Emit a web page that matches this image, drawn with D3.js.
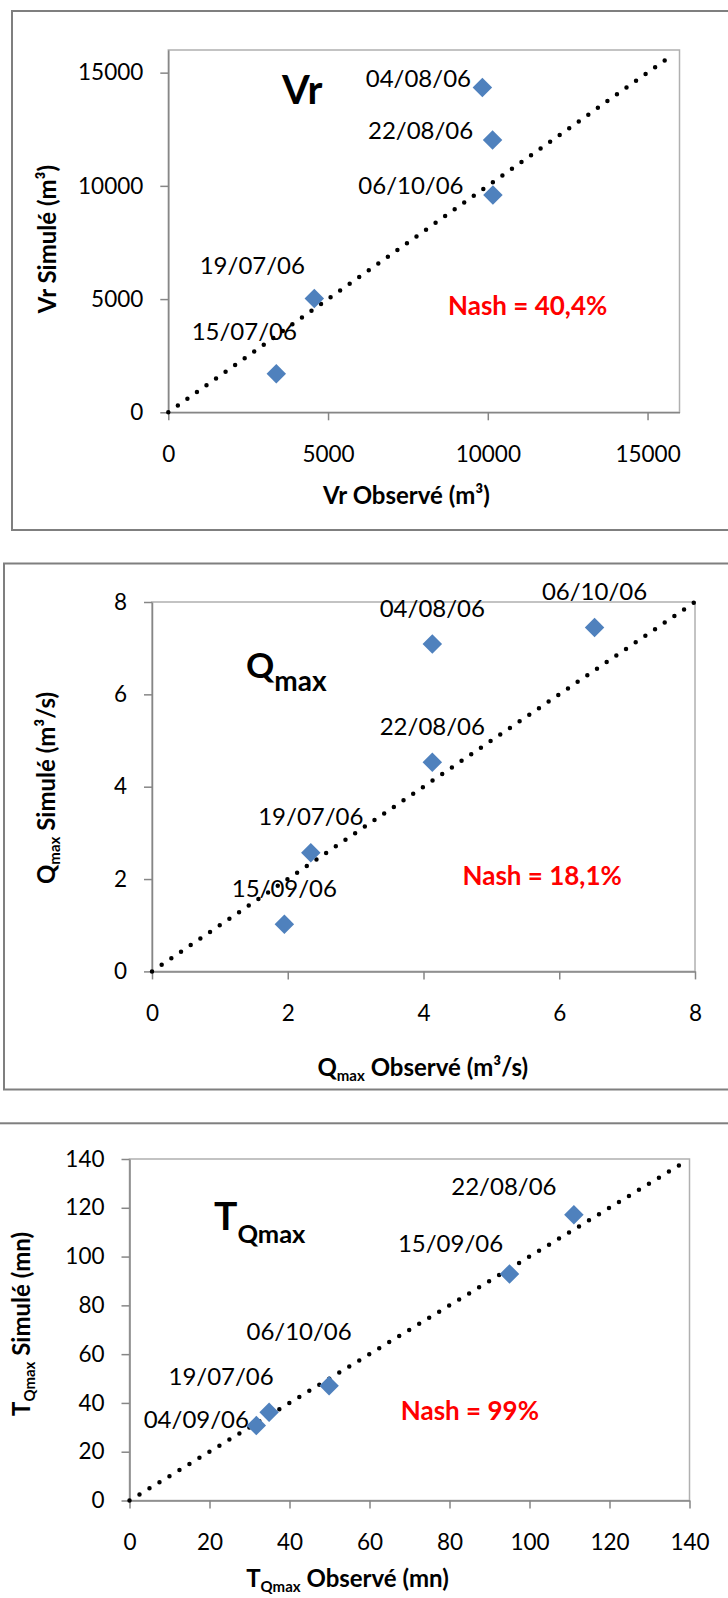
<!DOCTYPE html>
<html>
<head>
<meta charset="utf-8">
<script src="https://cdn.jsdelivr.net/npm/d3@7/dist/d3.min.js"></script>
<style>
  body { margin: 0; background: #fff; }
  svg { display: block; }
  text { font-family: Lato, "Open Sans", sans-serif; fill: #000; }
</style>
</head>
<body>
<svg id="chart" width="728" height="1598"></svg>
<script>
// ---- Vr (volume ruisselé)
var vrDates = ["04/08/06", "22/08/06", "06/10/06", "19/07/06", "15/07/06"];
var vrObs = [9830, 10150, 10160, 4570, 3380];
var vrSim = [14340, 12030, 9600, 5030, 1700];
var vrTicks = [0, 5000, 10000, 15000];
var vrMax = 16000;
var vrLine = [0, 15800];
var vrNash = "Nash = 40,4%";

// ---- Qmax (débit de pointe)
var qDates = ["04/08/06", "06/10/06", "22/08/06", "19/07/06", "15/09/06"];
var qObs = [4.13, 6.52, 4.13, 2.34, 1.95];
var qSim = [7.09, 7.45, 4.53, 2.57, 1.02];
var qTicks = [0, 2, 4, 6, 8];
var qMax = 8;
var qLine = [0, 8];
var qNash = "Nash = 18,1%";

// ---- TQmax (temps de pointe)
var tDates = ["22/08/06", "15/09/06", "06/10/06", "19/07/06", "04/09/06"];
var tObs = [111.1, 95.0, 49.9, 34.9, 31.7];
var tSim = [117.1, 92.9, 47.0, 36.2, 30.7];
var tTicks = [0, 20, 40, 60, 80, 100, 120, 140];
var tMax = 140;
var tLine = [0, 139];
var tNash = "Nash = 99%";

// label offsets (px) from each diamond, the labels were moved by hand in the original
var vrShift = [[-64, -9], [-72, -10], [-82, -10], [-62, -33], [-32, -42]];
var qShift = [[0, -36], [0, -36], [0, -36], [0, -36], [0, -36]];
var tShift = [[-70, -28], [-59, -31], [-30, -54], [-48, -36], [-60, -6]];

var svg = d3.select("#chart");
var diamond = d3.symbol().type(d3.symbolSquare).size(190);

function drawPanel(p) {
  var g = svg.append("g").attr("class", p.name);

  // outer frame
  g.append("rect")
    .attr("x", p.frame[0]).attr("y", p.frame[1])
    .attr("width", p.frame[2]).attr("height", p.frame[3])
    .style("fill", "none").style("stroke", "#7f7f7f").style("stroke-width", "2px");

  var x = d3.scaleLinear().domain([0, p.max]).range([p.left, p.right]);
  var y = d3.scaleLinear().domain([0, p.max]).range([p.bottom, p.top]);

  // plot area border
  g.append("rect")
    .attr("x", p.left).attr("y", p.top)
    .attr("width", p.right - p.left).attr("height", p.bottom - p.top)
    .style("fill", "none").style("stroke", "#b0b0b0").style("stroke-width", "1.5px");

  var fmt = d3.format("d");
  var yAxis = d3.axisLeft(y).tickValues(p.ticks).tickSize(8).tickSizeOuter(0)
    .tickPadding(17).tickFormat(fmt);
  var xAxis = d3.axisBottom(x).tickValues(p.ticks).tickSize(8).tickSizeOuter(0)
    .tickPadding(26).tickFormat(fmt);

  [g.append("g").attr("transform", "translate(" + p.left + ",0)").call(yAxis),
   g.append("g").attr("transform", "translate(0," + p.bottom + ")").call(xAxis)]
    .forEach(function(ax) {
      ax.selectAll("path, line").style("stroke", "#868686").style("stroke-width", "1.5px");
      ax.selectAll("text").style("font-size", "22.5px").style("fill", "#000")
        .style("font-family", 'Lato, "Open Sans", sans-serif');
    });

  var pts = p.dates.map(function(d, i) {
    return {date: d, obs: p.obs[i], sim: p.sim[i], shift: p.shift[i]};
  });

  // date labels
  g.selectAll(".date").data(pts).enter().append("text")
    .attr("class", "date")
    .attr("x", function(d) { return x(d.obs) + d.shift[0]; })
    .attr("y", function(d) { return y(d.sim) + d.shift[1]; })
    .attr("dy", "0.36em")
    .attr("text-anchor", "middle")
    .style("font-size", "24px")
    .text(function(d) { return d.date; });

  // 1:1 line, dotted
  g.append("line")
    .attr("x1", x(p.line[0])).attr("y1", y(p.line[0]))
    .attr("x2", x(p.line[1])).attr("y2", y(p.line[1]))
    .style("stroke", "#000").style("stroke-width", "4.5px")
    .style("stroke-linecap", "round").style("stroke-dasharray", "0,11.7");

  g.selectAll(".pt").data(pts).enter().append("path")
    .attr("class", "pt")
    .attr("d", diamond)
    .attr("transform", function(d) { return "translate(" + x(d.obs) + "," + y(d.sim) + ") rotate(45)"; })
    .style("fill", "#4f81bd");

  // big title inside the plot
  var t = g.append("text")
    .attr("x", p.title.x).attr("y", p.title.y)
    .style("font-weight", "bold").style("font-size", p.title.size + "px");
  t.append("tspan").text(p.title.main);
  if (p.title.sub) {
    t.append("tspan").attr("dy", p.title.subDy).style("font-size", p.title.subSize + "px").text(p.title.sub);
  }

  g.append("text")
    .attr("x", p.nash[0]).attr("y", p.nash[1])
    .style("font-weight", "bold").style("font-size", "26px").style("fill", "#ff0000")
    .text(p.nashText);

  // axis titles
  function axisTitle(sel, a) {
    sel.style("font-weight", "bold").style("font-size", "24px").attr("text-anchor", "middle");
    sel.append("tspan").text(a.pre);
    if (a.sub) {
      sel.append("tspan").attr("dy", 5).style("font-size", "15px").text(a.sub);
      sel.append("tspan").attr("dy", -5).text(a.post);
    }
  }
  g.append("text")
    .attr("transform", "translate(" + p.yTitle.x + "," + p.yTitle.y + ") rotate(-90)")
    .call(axisTitle, p.yTitle);
  g.append("text")
    .attr("x", p.xTitle.x).attr("y", p.xTitle.y)
    .call(axisTitle, p.xTitle);
}

drawPanel({
  name: "vr", dates: vrDates, obs: vrObs, sim: vrSim, shift: vrShift,
  ticks: vrTicks, max: vrMax, line: vrLine, nashText: vrNash,
  frame: [12, 11, 740, 519],
  left: 168.3, right: 679.5, top: 50, bottom: 412.3,
  title: {x: 282, y: 104, size: 40, main: "Vr"},
  nash: [448, 315],
  yTitle: {x: 55.5, y: 239, pre: "Vr Simulé (m³)"},
  xTitle: {x: 406.5, y: 503.5, pre: "Vr Observé (m³)"}
});

drawPanel({
  name: "qmax", dates: qDates, obs: qObs, sim: qSim, shift: qShift,
  ticks: qTicks, max: qMax, line: qLine, nashText: qNash,
  frame: [4, 563.5, 748, 526],
  left: 152, right: 695, top: 602, bottom: 971.4,
  title: {x: 246, y: 678, size: 35, main: "Q", sub: "max", subSize: 28, subDy: 13},
  nash: [462.5, 885],
  yTitle: {x: 55, y: 788, pre: "Q", sub: "max", post: " Simulé (m³/s)"},
  xTitle: {x: 422.8, y: 1075.5, pre: "Q", sub: "max", post: " Observé (m³/s)"}
});

drawPanel({
  name: "tqmax", dates: tDates, obs: tObs, sim: tSim, shift: tShift,
  ticks: tTicks, max: tMax, line: tLine, nashText: tNash,
  frame: [-3, 1123.3, 760, 500],
  left: 129.5, right: 689.5, top: 1159, bottom: 1500.5,
  title: {x: 214, y: 1230, size: 39, main: "T", sub: "Qmax", subSize: 25.5, subDy: 13},
  nash: [400.8, 1420],
  yTitle: {x: 30, y: 1324, pre: "T", sub: "Qmax", post: " Simulé (mn)"},
  xTitle: {x: 347.5, y: 1586.7, pre: "T", sub: "Qmax", post: " Observé (mn)"}
});
</script>
</body>
</html>
